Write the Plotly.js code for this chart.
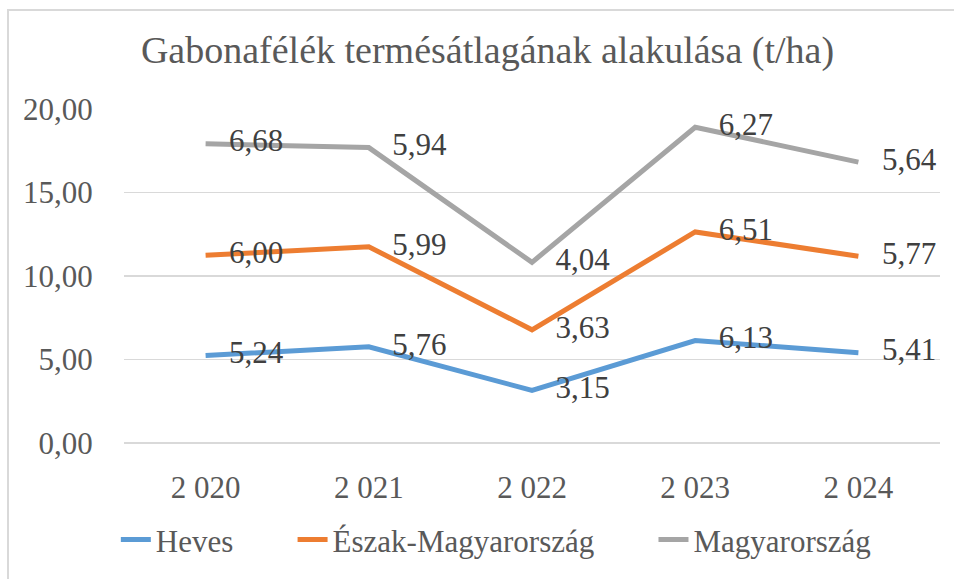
<!DOCTYPE html>
<html>
<head>
<meta charset="utf-8">
<script src="https://cdn.plot.ly/plotly-3.0.1.min.js"></script>
<style>
html,body{margin:0;padding:0;background:#fff;font-family:'Liberation Serif';}
#wrap{position:relative;width:954px;height:579px;overflow:hidden;}
#chart{position:absolute;left:0;top:0;width:954px;height:579px;}
#frame{position:absolute;left:7px;top:9px;width:960px;height:600px;border:2px solid #d9d9d9;pointer-events:none;}
#chart svg text{font-family:'Liberation Serif','Times New Roman',serif !important;}
</style>
</head>
<body>
<div id="wrap"><div id="chart"></div><div id="frame"></div></div>
<script>
var years = ["2 020", "2 021", "2 022", "2 023", "2 024"];
var heves = [5.24, 5.76, 3.15, 6.13, 5.41];
var eszak = [6.00, 5.99, 3.63, 6.51, 5.77];
var magyar = [6.68, 5.94, 4.04, 6.27, 5.64];
var seriesNames = ["Heves", "Észak-Magyarország", "Magyarország"];
var colors = ["#5B9BD5", "#ED7D31", "#A5A5A5"];
var FONT = "Liberation Serif";
var PAD = "\u00a0\u00a0\u00a0\u00a0\u00a0\u00a0\u00a0";

var all = [heves, eszak, magyar];
var cum = years.map(function(){return 0;});
var traces = all.map(function(vals, i){
  cum = cum.map(function(c, j){return c + vals[j];});
  return {
    type: 'scatter',
    mode: 'lines+markers+text',
    name: seriesNames[i] + (i < all.length - 1 ? PAD : ''),
    x: years,
    y: cum.slice(),
    text: vals.map(function(v){return v.toFixed(2).replace('.', ',');}),
    textposition: 'middle right',
    textfont: {family: FONT, size: 31, color: '#404040'},
    line: {color: colors[i], width: 5},
    marker: {size: 36, color: 'rgba(0,0,0,0)'},
    cliponaxis: false,
    hoverinfo: 'skip'
  };
});

var layout = {
  width: 954, height: 579,
  margin: {l: 124, r: 14, t: 109, b: 132},
  paper_bgcolor: 'rgba(0,0,0,0)', plot_bgcolor: 'rgba(0,0,0,0)',
  separators: ', ',
  font: {family: FONT, color: '#595959', size: 31},
  title: {text: 'Gabonafélék termésátlagának alakulása (t/ha)', font: {family: FONT, size: 38, color: '#595959'},
    xref: 'container', x: 0.511, xanchor: 'center', yref: 'container', y: 0.915, yanchor: 'middle'},
  xaxis: {
    type: 'category', range: [-0.5, 4.5], showgrid: false, zeroline: false, showline: false,
    ticks: 'outside', ticklen: 17, tickcolor: 'rgba(0,0,0,0)',
    tickfont: {family: FONT, size: 31, color: '#595959'}, fixedrange: true
  },
  yaxis: {
    range: [0, 20], dtick: 5, tick0: 0, tickformat: '.2f',
    showgrid: true, gridcolor: '#d9d9d9', gridwidth: 1.5,
    zeroline: true, zerolinecolor: '#d9d9d9', zerolinewidth: 1.5,
    showline: false, ticks: 'outside', ticklen: 24, tickcolor: 'rgba(0,0,0,0)',
    tickfont: {family: FONT, size: 31, color: '#595959'}, fixedrange: true
  },
  showlegend: true,
  legend: {orientation: 'h', x: -0.01, xanchor: 'left', y: -0.29, yanchor: 'middle',
    font: {family: FONT, size: 31, color: '#595959'}, traceorder: 'normal'}
};

Plotly.newPlot('chart', traces, layout, {displayModeBar: false, staticPlot: true}).then(function(gd){
  var texts = gd.querySelectorAll('svg text');
  for (var k = 0; k < texts.length; k++) {
    texts[k].style.setProperty('font-family', "'Liberation Serif', 'Times New Roman', serif", 'important');
  }
});
</script>
</body>
</html>
